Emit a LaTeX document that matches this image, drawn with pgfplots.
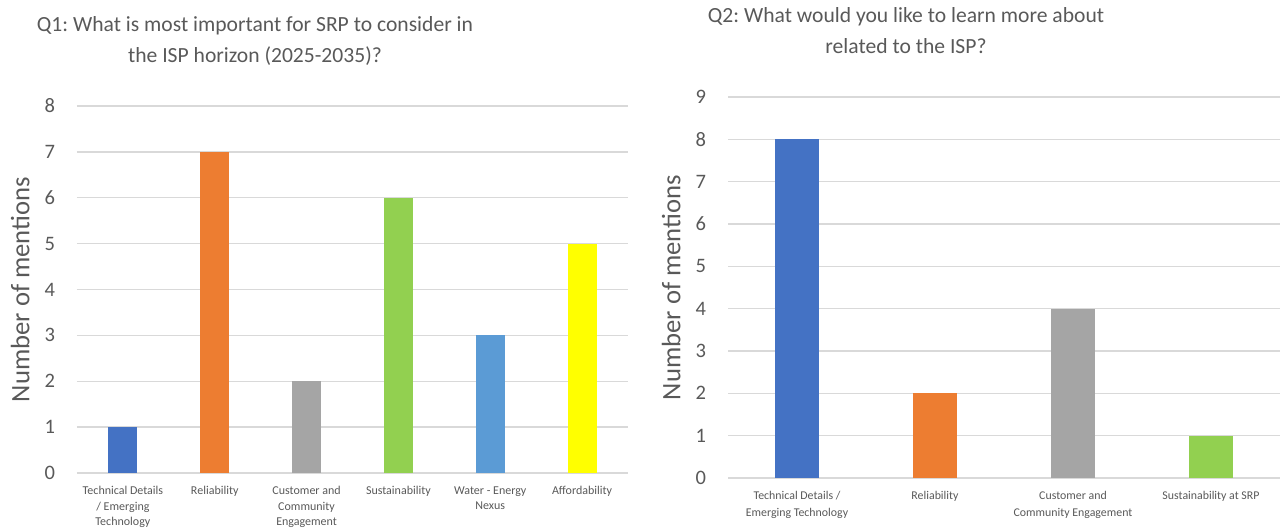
\documentclass[border=0pt]{standalone}
\usepackage{fontspec}
\setmainfont{Carlito}
\usepackage{pgfplots}
\pgfplotsset{compat=1.18}
\frenchspacing
\definecolor{txt}{HTML}{595959}
\definecolor{grd}{HTML}{D9D9D9}
\definecolor{cblue}{HTML}{4472C4}
\definecolor{corange}{HTML}{ED7D31}
\definecolor{cgray}{HTML}{A5A5A5}
\definecolor{cgreen}{HTML}{92D050}
\definecolor{clblue}{HTML}{5B9BD5}
\definecolor{cyellow}{HTML}{FFFF00}
\pgfplotsset{
  common/.style={
    scale only axis, anchor=south west,
    ybar, bar shift=0pt,
    ymin=0,
    axis line style={draw=none},
    major tick length=0pt,
    ymajorgrids, grid style={grd, line width=1pt},
    /pgf/number format/assume math mode=true,
    yticklabel style={font=\fontsize{15.4}{18}\selectfont, text=txt, xshift=-13pt},
    xticklabel style={align=center, anchor=north, text=txt, yshift=-6.5pt},
    ylabel={Number of mentions},
    every axis y label/.style={at={(axis description cs:-0.103,0.5)}, rotate=90, anchor=center, font=\fontsize{20}{24}\selectfont, text=txt},
    title style={align=center, anchor=center, font=\fontsize{16.2}{23.5}\selectfont, text=txt},
    xtick={0,1,2,3,4,5},
  }
}
\begin{document}
\begin{tikzpicture}
\useasboundingbox (0,0) rectangle (962.25pt,396.75pt);
\begin{axis}[common, at={(57.75pt,42pt)}, width=413.25pt, height=275.25pt,
  ymax=8, xmin=-0.5, xmax=5.5, bar width=21.75pt, ytick={0,1,...,8},
  xticklabel style={font=\fontsize{9}{11.6}\selectfont},
  xticklabels={{Technical Details\\/ Emerging\\Technology}, Reliability, {Customer and\\Community\\Engagement}, Sustainability, {Water - Energy\\Nexus}, Affordability},
  title={Q1: What is most important for SRP to consider in\\the ISP horizon (2025-2035)?},
  title style={at={(axis description cs:0.323,1.155)}}]
\addplot[fill=cblue, draw=none] coordinates {(0,1)};
\addplot[fill=corange, draw=none] coordinates {(1,7)};
\addplot[fill=cgray, draw=none] coordinates {(2,2)};
\addplot[fill=cgreen, draw=none] coordinates {(3,6)};
\addplot[fill=clblue, draw=none] coordinates {(4,3)};
\addplot[fill=cyellow, draw=none] coordinates {(5,5)};
\end{axis}
\begin{axis}[common, at={(546pt,38.25pt)}, width=414pt, height=285.75pt,
  ymax=9, xmin=-0.5, xmax=3.5, bar width=33pt, ytick={0,1,...,9},
  xtick={0,1,2,3},
  xticklabel style={font=\fontsize{8.9}{12.5}\selectfont},
  xticklabels={{Technical Details /\\Emerging Technology}, Reliability, {Customer and\\Community Engagement}, Sustainability at SRP},
  title={Q2: What would you like to learn more about\\related to the ISP?},
  title style={at={(axis description cs:0.3225,1.153)}}]
\addplot[fill=cblue, draw=none] coordinates {(0,8)};
\addplot[fill=corange, draw=none] coordinates {(1,2)};
\addplot[fill=cgray, draw=none] coordinates {(2,4)};
\addplot[fill=cgreen, draw=none] coordinates {(3,1)};
\end{axis}
\end{tikzpicture}
\end{document}
